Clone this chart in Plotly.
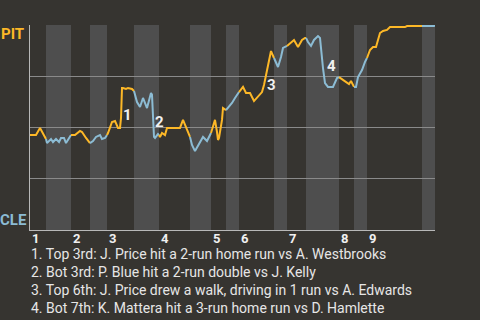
import plotly.graph_objects as go

# Game progress (arbitrary play-progress units) and PIT win probability (%)
progress = [0, 6, 10, 15, 16,
            17, 21, 23, 26, 29, 31, 34, 36, 40, 41,
            45, 50, 52, 56, 60,
            63, 66, 70, 72, 75, 77,
            78, 82, 85, 88, 90, 91, 92, 93, 96, 98, 102, 104,
            107, 110, 113, 117, 121, 122, 124, 125, 128, 129,
            130, 132, 135, 137, 150, 153, 157, 160,
            162, 165, 168, 173, 177, 180, 181,
            185, 187, 188, 189, 192, 193, 196,
            198, 202, 205, 208, 209,
            213, 216, 220, 224, 228, 232, 234, 237, 239, 241, 244,
            246, 248, 251, 253, 257,
            260, 264, 268, 272, 275, 276,
            278, 281, 284, 288, 290, 293, 295, 298, 303, 307, 309,
            313, 317, 319, 321, 324,
            326, 328, 332, 335, 337,
            340, 343, 346, 348, 350, 353, 357, 360, 375, 377, 392,
            404, 405]
win_prob = [46.3, 46.3, 49.8, 44.9, 44.4,
            42.4, 44.4, 42.9, 44.4, 42.9, 44.9, 44.9, 42.4, 45.9, 46.3,
            46.3, 48.3, 47.8, 44.9, 42.4,
            43.4, 45.4, 46.3, 44.4, 44.9, 46.3,
            47.3, 52.7, 53.2, 49.8, 49.8, 54.6, 69.3, 69.3, 68.8, 69.3, 68.8, 67.8,
            62.4, 60.0, 64.4, 59.5, 66.8, 65.9, 45.4, 44.9, 46.8, 46.3,
            45.4, 47.3, 46.3, 49.8, 49.8, 53.7, 48.8, 45.4,
            41.5, 38.5, 41.0, 45.4, 43.4, 46.3, 47.3,
            53.7, 47.8, 43.9, 44.9, 53.7, 59.5, 58.5,
            59.5, 62.0, 64.4, 66.8, 67.3,
            69.8, 66.8, 66.8, 62.9, 64.9, 67.3, 70.7, 78.0, 82.9, 87.3, 83.9,
            82.0, 79.5, 84.4, 88.8, 89.8,
            91.2, 92.7, 89.3, 92.7, 93.7, 93.7,
            91.7, 89.8, 92.7, 94.6, 93.7, 79.0, 71.7, 69.8, 69.8, 74.1, 74.6,
            73.2, 71.7, 71.2, 72.7, 69.8,
            69.8, 74.6, 78.0, 82.0, 83.9,
            87.8, 89.3, 89.3, 92.7, 96.1, 97.1, 97.6, 99.0, 99.0, 99.5, 99.5,
            99.5, 100.0]

# half-inning boundaries (top 1, bot 1, top 2, ...)
half_innings = [0, 16, 41, 60, 77, 104, 129, 160, 181, 196, 209, 244, 257, 276, 309, 324, 337, 392, 405]
innings = ["1", "2", "3", "4", "5", "6", "7", "8", "9"]

# key plays: index into the series where label is attached, label
event_points = [31, 45, 81, 103]
event_labels = ["1", "2", "3", "4"]
event_text = [
    "1. Top 3rd: J. Price hit a 2-run home run vs A. Westbrooks",
    "2. Bot 3rd: P. Blue hit a 2-run double vs J. Kelly",
    "3. Top 6th: J. Price drew a walk, driving in 1 run vs A. Edwards",
    "4. Bot 7th: K. Mattera hit a 3-run home run vs D. Hamlette",
]
event_shift = [(6, 3), (4, 16), (7, 0), (6, 17)]

PIT = "#fdb827"
CLE = "#8cbcd4"
BG = "#363430"

fig = go.Figure()

for i in range(len(half_innings) - 1):
    lo, hi = half_innings[i], half_innings[i + 1]
    xs = [x for x in progress if lo <= x <= hi]
    ys = [win_prob[j] for j, x in enumerate(progress) if lo <= x <= hi]
    fig.add_trace(go.Scatter(x=xs, y=ys, mode="lines",
                             line=dict(color=PIT if i % 2 == 0 else CLE, width=2),
                             hoverinfo="skip", showlegend=False))

shapes = []
for i in range(1, len(half_innings) - 1, 2):
    shapes.append(dict(type="rect", xref="x", yref="paper",
                       x0=half_innings[i], x1=half_innings[i + 1], y0=0, y1=1,
                       fillcolor="#4e4e4e", line=dict(width=0), layer="below"))

annotations = []
for k, idx in enumerate(event_points):
    dx, dy = event_shift[k]
    annotations.append(dict(x=progress[idx], y=win_prob[idx], xref="x", yref="y",
                            text="<b>%s</b>" % event_labels[k], showarrow=False,
                            xshift=dx, yshift=dy,
                            font=dict(family="Roboto", size=15, color="#f0f0f0")))
for k, name in enumerate(innings):
    annotations.append(dict(x=half_innings[2 * k], y=0, xref="x", yref="paper",
                            text="<b>%s</b>" % name, showarrow=False,
                            xanchor="left", yanchor="middle", xshift=0, yshift=-8,
                            font=dict(family="Roboto", size=13, color="#f0f0f0")))
annotations.append(dict(x=0, y=1, xref="paper", yref="paper", text="<b>PIT</b>",
                        showarrow=False, xanchor="right", yanchor="top", xshift=-4, yshift=2,
                        font=dict(family="Roboto", size=15, color=PIT)))
annotations.append(dict(x=0, y=0, xref="paper", yref="paper", text="<b>CLE</b>",
                        showarrow=False, xanchor="right", yanchor="bottom", xshift=-1, yshift=-1,
                        font=dict(family="Roboto", size=15, color=CLE)))
for k, line in enumerate(event_text):
    annotations.append(dict(x=0, y=0, xref="paper", yref="paper", text=line,
                            showarrow=False, xanchor="left", yanchor="middle", align="left",
                            xshift=-1, yshift=-24 - 18 * k,
                            font=dict(family="Roboto", size=14, color="#e6e6e6")))

fig.update_layout(
    width=480, height=320,
    margin=dict(l=30, r=45, t=25, b=90),
    paper_bgcolor=BG, plot_bgcolor=BG,
    shapes=shapes, annotations=annotations,
    xaxis=dict(range=[0, 405], showgrid=False, zeroline=False, showticklabels=False,
               ticks="", showline=True, linecolor="#b8b8b8", linewidth=1),
    yaxis=dict(range=[0, 100], tickvals=[0, 25, 50, 75, 100], showticklabels=False,
               showgrid=True, gridcolor="#8a8a8a", gridwidth=1, zeroline=False,
               ticks="", showline=True, linecolor="#b8b8b8", linewidth=1),
)

fig.write_html("out.html")
